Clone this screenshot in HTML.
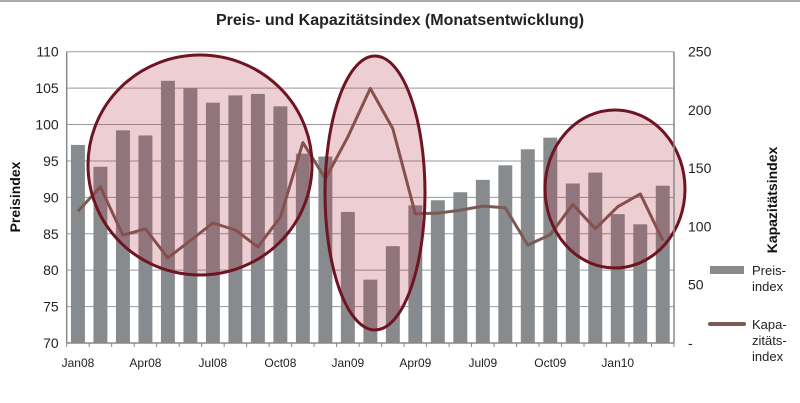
<!DOCTYPE html>
<html><head><meta charset="utf-8"><style>
body{margin:0;background:#fff;}
svg{display:block;font-family:"Liberation Sans",Arial,sans-serif;}
</style></head><body>
<svg id="chart" width="800" height="403" viewBox="0 0 800 403">
<rect x="0" y="0" width="800" height="2" fill="#aaa"/>
<text x="400" y="25" text-anchor="middle" font-size="16" font-weight="bold" fill="#222">Preis- und Kapazitätsindex (Monatsentwicklung)</text>
<g id="grid"></g>
<g id="bars"></g>
<g id="line"></g>
<g id="ellipses">
<ellipse cx="200" cy="165" rx="112" ry="110" fill="rgba(175,50,70,0.24)" stroke="#6e1423" stroke-width="3"/>
<ellipse cx="375" cy="193" rx="50" ry="137" fill="rgba(175,50,70,0.24)" stroke="#6e1423" stroke-width="3"/>
<ellipse cx="615" cy="189" rx="70" ry="79" fill="rgba(175,50,70,0.24)" stroke="#6e1423" stroke-width="3"/>
</g>
<g id="axes"></g>
<text transform="translate(20,197) rotate(-90)" text-anchor="middle" font-size="14" font-weight="bold" fill="#111">Preisindex</text>
<text transform="translate(777,200) rotate(-90)" text-anchor="middle" font-size="14" font-weight="bold" fill="#111">Kapazitätsindex</text>
<g>
<rect x="710" y="266" width="34" height="8" fill="#878b8d"/>
<text x="752" y="275" font-size="13" fill="#222"><tspan x="752">Preis-</tspan><tspan x="752" dy="16">index</tspan></text>
<line x1="710" y1="324" x2="744" y2="324" stroke="#7a5a52" stroke-width="4" stroke-linecap="round"/>
<text x="752" y="329" font-size="13" fill="#222"><tspan x="752">Kapa-</tspan><tspan x="752" dy="16">zitäts-</tspan><tspan x="752" dy="16">index</tspan></text>
</g>
</svg>
<script>
const months = ["Jan08","Feb08","Mar08","Apr08","May08","Jun08","Jul08","Aug08","Sep08","Oct08","Nov08","Dec08","Jan09","Feb09","Mar09","Apr09","May09","Jun09","Jul09","Aug09","Sep09","Oct09","Nov09","Dec09","Jan10","Feb10","Mar10"];
const preisindex = [97.2,94.2,99.2,98.5,106,105,103,104,104.2,102.5,96,95.6,88,78.7,83.3,88.9,89.6,90.7,92.4,94.4,96.6,98.2,91.9,93.4,87.7,86.3,91.6];
const kapazitaet = [113,134,92.5,98,73,88,103,97,82.5,108,172,141,177,218.5,184,111,111.5,114,117.5,116,84,93,119,98,117,128,88];
const leftTicks = [70,75,80,85,90,95,100,105,110];
const rightTicks = [0,50,100,150,200,250];
const rightTickLabels = ["-","50","100","150","200","250"];
const xLabels = ["Jan08","Apr08","Jul08","Oct08","Jan09","Apr09","Jul09","Oct09","Jan10"];

const NS="http://www.w3.org/2000/svg";
const X0=66.7, X1=674, YB=343, YT=51.7;
const step=(X1-X0)/months.length;
const yL=v=>YB-(v-70)/(110-70)*(YB-YT);
const yR=v=>YB-v/250*(YB-YT);
const xC=i=>X0+step*(i+0.5);
function mk(tag,attrs,parent){const e=document.createElementNS(NS,tag);for(const k in attrs)e.setAttribute(k,attrs[k]);parent.appendChild(e);return e;}
const grid=document.getElementById('grid'),bars=document.getElementById('bars'),line=document.getElementById('line'),axes=document.getElementById('axes');
leftTicks.forEach(t=>{
  if(t>70){const g=mk('line',{x1:X0,x2:X1,y1:yL(t),y2:yL(t),stroke:'#9a9a9a','stroke-width':1},grid);
  
  }
  const tx=mk('text',{x:X0-8,y:yL(t)+5,'text-anchor':'end','font-size':14,fill:'#222'},axes);
  tx.textContent=t;
  
  
});
rightTicks.forEach((t,i)=>{
  const tx=mk('text',{x:X1+14,y:yR(t)+5,'font-size':14,fill:'#222'},axes);
  tx.textContent=rightTickLabels[i];
  
  
});
preisindex.forEach((v,i)=>{
  const bw=step*0.62;
  const r=mk('rect',{x:xC(i)-bw/2,y:yL(v),width:bw,height:YB-yL(v),fill:'#878b8d'},bars);
  
  
});
const pts=kapazitaet.map((v,i)=>xC(i).toFixed(1)+','+yR(v).toFixed(1)).join(' ');
const pl=mk('polyline',{points:pts,fill:'none',stroke:'#7a5a52','stroke-width':3,'stroke-linejoin':'round'},line);


const ax=mk('line',{x1:X0,x2:X1,y1:YB,y2:YB,stroke:'#888','stroke-width':1.5},axes);


const la=mk('line',{x1:X0,x2:X0,y1:YT,y2:YB,stroke:'#888','stroke-width':1.5},axes);


const ra=mk('line',{x1:X1,x2:X1,y1:YT,y2:YB,stroke:'#888','stroke-width':1.5},axes);


for(let i=0;i<=months.length;i++){
  const tk=mk('line',{x1:X0+step*i,x2:X0+step*i,y1:YB,y2:YB+4,stroke:'#888'},axes);
  
  
}
xLabels.forEach(l=>{
  const i=months.indexOf(l);
  const tx=mk('text',{x:xC(i),y:YB+24,'text-anchor':'middle','font-size':12,fill:'#222'},axes);
  tx.textContent=l;
  
  
});
</script>
</body></html>
